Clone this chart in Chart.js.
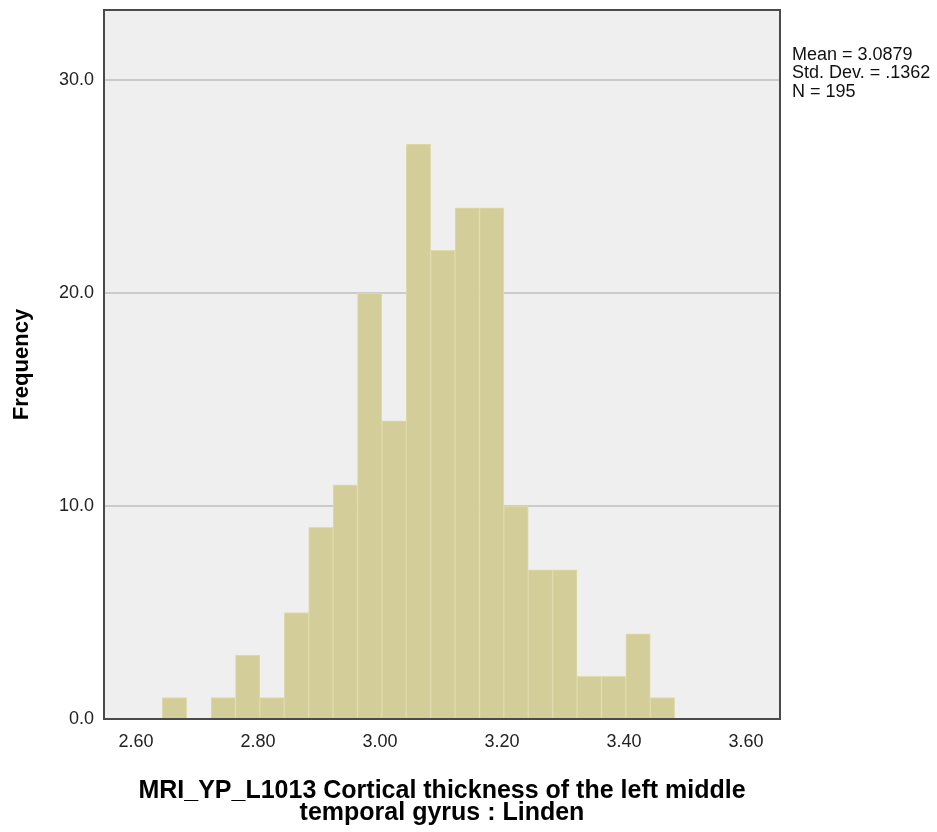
<!DOCTYPE html>
<html>
<head>
<meta charset="utf-8">
<script src="https://cdn.jsdelivr.net/npm/chart.js@4"></script>
<style>
  html, body { margin: 0; padding: 0; background: #fff; }
  #wrap { width: 937px; height: 832px; }
</style>
</head>
<body>
<div id="wrap"><canvas id="hist" width="937" height="832"></canvas></div>
<script>
// bin centres (cortical thickness) and counts
const binCenters = [2.663, 2.703, 2.743, 2.783, 2.823, 2.863, 2.903, 2.943, 2.983, 3.023, 3.063,
                    3.103, 3.143, 3.183, 3.223, 3.263, 3.303, 3.343, 3.383, 3.423, 3.463];
const counts = [1, 0, 1, 3, 1, 5, 9, 11, 20, 14, 27, 22, 24, 24, 10, 7, 7, 2, 2, 4, 1];
const xTicks = [2.60, 2.80, 3.00, 3.20, 3.40, 3.60];
const yTicks = [0, 10, 20, 30];
const statsLines = ['Mean = 3.0879', 'Std. Dev. = .1362', 'N = 195'];
const xTitle = ['MRI_YP_L1013 Cortical thickness of the left middle', 'temporal gyrus : Linden'];
const yTitle = 'Frequency';

const FONT = "'Liberation Sans', Arial, sans-serif";

// plot background, frame and the stats box on the right
const frame = {
  id: 'frame',
  beforeDraw(chart) {
    const { ctx, chartArea: a } = chart;
    ctx.save();
    ctx.fillStyle = '#efefef';
    ctx.fillRect(a.left, a.top, a.right - a.left, a.bottom - a.top);
    ctx.restore();
  },
  afterDraw(chart) {
    const { ctx, chartArea: a } = chart;
    ctx.save();
    ctx.strokeStyle = '#4a4a4a';
    ctx.lineWidth = 2;
    ctx.strokeRect(a.left, a.top, a.right - a.left, a.bottom - a.top);
    ctx.fillStyle = '#111';
    ctx.font = '18px ' + FONT;
    ctx.textBaseline = 'middle';
    statsLines.forEach((t, i) => ctx.fillText(t, a.right + 12, 55 + i * 18.5));
    ctx.restore();
  }
};

new Chart(document.getElementById('hist'), {
  type: 'bar',
  data: {
    datasets: [{
      data: binCenters.map((x, i) => ({ x: x, y: counts[i] })),
      backgroundColor: '#d3ce99',
      borderColor: '#dfdbab',
      borderWidth: 1,
      barPercentage: 1,
      categoryPercentage: 1
    }]
  },
  options: {
    responsive: false,
    animation: false,
    layout: { padding: { top: 10, right: 157, bottom: 0, left: 0 } },
    plugins: { legend: { display: false }, tooltip: { enabled: false } },
    scales: {
      x: {
        type: 'linear',
        min: 2.5475,
        max: 3.6557,
        offset: false,
        afterFit: s => { s.height = 113; s.paddingLeft = 0; s.paddingRight = 0; },
        afterBuildTicks: s => { s.ticks = xTicks.map(v => ({ value: v })); },
        ticks: { color: '#222', font: { family: FONT, size: 18 }, padding: 12, maxRotation: 0,
                 callback: v => v.toFixed(2) },
        grid: { display: false, offset: false, drawTicks: false },
        border: { display: false },
        title: { display: true, text: xTitle, color: '#000',
                 font: { family: FONT, size: 25, weight: 'bold', lineHeight: '22px' },
                 padding: { top: 0, bottom: 8 } }
      },
      y: {
        min: 0,
        max: 33.29,
        afterFit: s => { s.width = 104; s.paddingTop = 0; s.paddingBottom = 0; },
        afterBuildTicks: s => { s.ticks = yTicks.map(v => ({ value: v })); },
        ticks: { color: '#222', font: { family: FONT, size: 18 }, padding: 10,
                 callback: v => v.toFixed(1) },
        grid: { color: '#cbcbcb', lineWidth: 2, drawTicks: false },
        border: { display: false },
        title: { display: true, text: yTitle, color: '#000',
                 font: { family: FONT, size: 22, weight: 'bold' },
                 padding: { top: 9, bottom: 0 } }
      }
    }
  },
  plugins: [frame]
});
</script>
</body>
</html>
